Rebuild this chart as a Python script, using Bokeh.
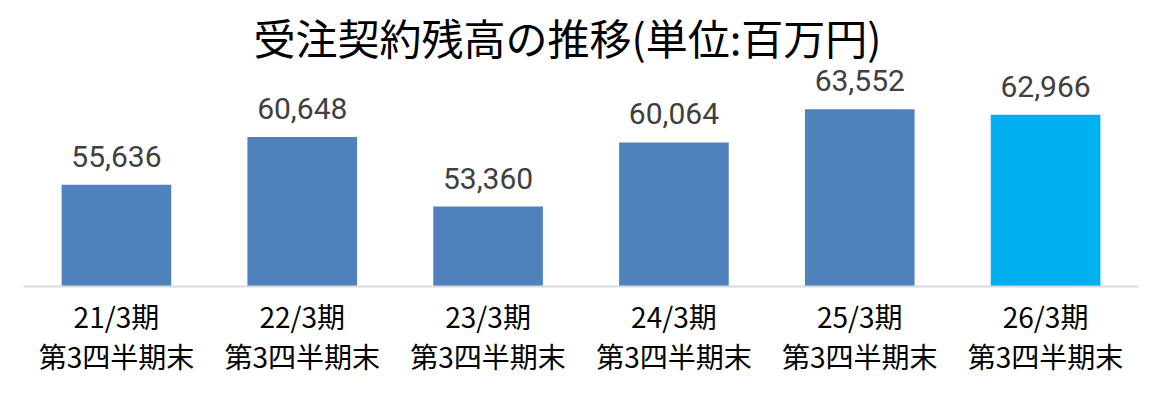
from bokeh.plotting import figure
from bokeh.models import ColumnDataSource, LabelSet, FactorRange, Range1d
from bokeh.core.properties import value
from bokeh.embed import file_html
from bokeh.resources import INLINE

categories = ["21/3期\n第3四半期末", "22/3期\n第3四半期末", "23/3期\n第3四半期末",
              "24/3期\n第3四半期末", "25/3期\n第3四半期末", "26/3期\n第3四半期末"]
values = [55636, 60648, 53360, 60064, 63552, 62966]
value_labels = ["55,636", "60,648", "53,360", "60,064", "63,552", "62,966"]
colors = ["#4F81BD", "#4F81BD", "#4F81BD", "#4F81BD", "#4F81BD", "#00B0F0"]

src = ColumnDataSource(dict(cat=categories, val=values, lab=value_labels, col=colors))

p = figure(width=1145, height=379, output_backend="svg", toolbar_location=None,
           x_range=FactorRange(factors=categories, range_padding=0),
           y_range=Range1d(45000, 67700),
           min_border_left=23, min_border_right=7, min_border_top=68, min_border_bottom=93,
           title="受注契約残高の推移(単位:百万円)")
p.title.align = "left"
p.title.offset = 230
p.title.text_font = "Noto Sans CJK JP"
p.title.text_font_size = "42px"
p.title.text_font_style = "normal"
p.title.text_color = "#000000"
p.title.standoff = 6

p.vbar(x="cat", top="val", bottom=45000, width=0.59, fill_color="col", line_color=None, source=src)

labels = LabelSet(x="cat", y="val", text="lab", source=src, text_align="center",
                  text_baseline="alphabetic", y_offset=18, text_font=value("Roboto"),
                  text_font_size="30px", text_color="#404040")
p.add_layout(labels)

p.yaxis.visible = False
p.xgrid.grid_line_color = None
p.ygrid.grid_line_color = None
p.outline_line_color = None
p.xaxis.axis_line_color = "#D9D9D9"
p.xaxis.axis_line_width = 2
p.xaxis.major_tick_line_color = None
p.xaxis.minor_tick_line_color = None
p.xaxis.major_label_text_font = "Noto Sans CJK JP"
p.xaxis.major_label_text_font_size = "28px"
p.xaxis.major_label_text_color = "#000000"
p.xaxis.major_label_standoff = 3
p.xaxis.major_label_text_line_height = 1.0

open("out.html", "w").write(file_html(p, INLINE))
